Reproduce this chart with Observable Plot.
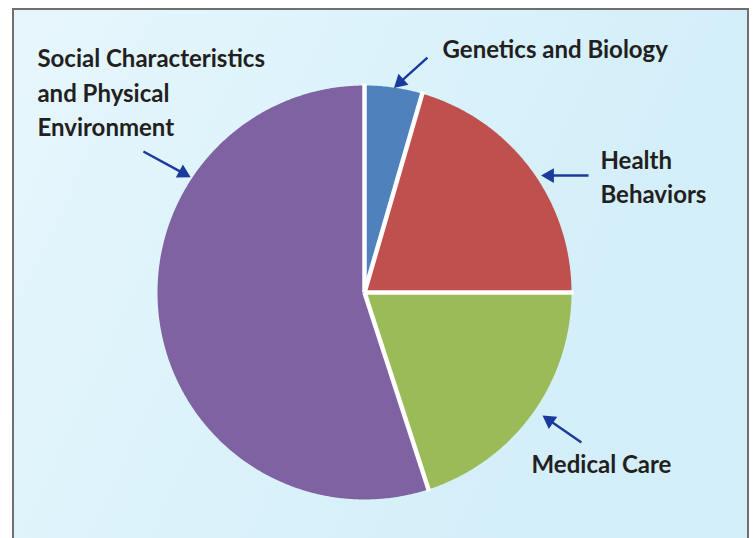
<!DOCTYPE html>
<html>
<head>
<meta charset="utf-8">
<script src="https://cdn.jsdelivr.net/npm/d3@7"></script>
<script src="https://cdn.jsdelivr.net/npm/@observablehq/plot@0.6"></script>
<style>
  html, body { margin: 0; padding: 0; background: #ffffff; }
  #wrap { position: relative; width: 755px; height: 538px; overflow: hidden; }
  #frame {
    position: absolute; left: 12px; top: 8px; width: 733px; height: 540px;
    border: 2px solid #6f6f6f; border-bottom: none;
    background: linear-gradient(115deg, #e7f6fc 0%, #ddf3fb 35%, #d4eff9 70%, #d2eef9 100%);
  }
  #chart { position: absolute; left: 0; top: 0; }
</style>
</head>
<body>
<div id="wrap"><div id="frame"></div><div id="chart"></div></div>
<script>
// Data (clockwise from 12 o'clock), percent shares
const categories = ["Genetics and Biology", "Health Behaviors", "Medical Care", "Social Characteristics and Physical Environment"];
const values = [4.5, 20.5, 20, 55];
const colors = ["#4f81bd", "#c0504d", "#9bbb59", "#7f62a2"];

// Annotation text lines and anchors (in pie-radius units; centre = 0,0)
const labelLines = ["Social Characteristics", "and Physical", "Environment", "Genetics and Biology", "Health", "Behaviors", "Medical Care"];
const labelX = [-1.580, -1.580, -1.580, 0.377, 1.140, 1.140, 0.807];
const labelY = [1.087, 0.918, 0.754, 1.135, 0.599, 0.430, -0.874];

const arrowX1 = [0.304, -1.068, 1.082, 1.048];
const arrowY1 = [1.135, 0.681, 0.565, -0.725];
const arrowX2 = [0.155, -0.855, 0.870, 0.874];
const arrowY2 = [1.000, 0.565, 0.565, -0.604];

// Build slice outlines from the values via d3.pie
const arcs = d3.pie().sort(null).startAngle(0).endAngle(2 * Math.PI)(values);
const slicePts = [];
arcs.forEach((a, i) => {
  slicePts.push({cat: categories[i], x: 0, y: 0});
  const n = Math.max(8, Math.ceil((a.endAngle - a.startAngle) / (Math.PI / 360)));
  for (let k = 0; k <= n; k++) {
    const t = a.startAngle + (a.endAngle - a.startAngle) * k / n;
    slicePts.push({cat: categories[i], x: Math.sin(t), y: Math.cos(t)});
  }
});
const seps = arcs.map(a => ({x2: Math.sin(a.startAngle) * 1.01, y2: Math.cos(a.startAngle) * 1.01}));

const labels = labelLines.map((t, i) => ({t, x: labelX[i], y: labelY[i]}));
const W = 755, H = 538, R = 207, CX = 364, CY = 292;
const back = 5 / R; // head centre sits a little behind the tip
const arrows = arrowX1.map((x1, i) => {
  const x2 = arrowX2[i], y2 = arrowY2[i];
  const dx = x2 - x1, dy = y2 - y1_(i), L = Math.hypot(dx, dy);
  return {x1, y1: arrowY1[i], x2, y2,
    lx: x2 - dx / L * back * 1.2, ly: y2 - dy / L * back * 1.2,
    hx: x2 - dx / L * back, hy: y2 - dy / L * back,
    rot: Math.atan2(dx, dy) * 180 / Math.PI};
});
function y1_(i) { return arrowY1[i]; }

const chart = Plot.plot({
  width: W, height: H,
  margin: 0,
  style: {background: "transparent", overflow: "visible"},
  x: {domain: [-CX / R, (W - CX) / R], axis: null},
  y: {domain: [(CY - H) / R, CY / R], axis: null},
  color: {domain: categories, range: colors},
  marks: [
    Plot.line(slicePts, {x: "x", y: "y", z: "cat", fill: "cat", stroke: "none", curve: "linear-closed"}),
    Plot.link(seps, {x1: 0, y1: 0, x2: "x2", y2: "y2", stroke: "white", strokeWidth: 4.5}),
    Plot.link(arrows, {x1: "x1", y1: "y1", x2: "lx", y2: "ly", stroke: "#1a3a9c", strokeWidth: 2.4}),
    Plot.dot(arrows, {x: "hx", y: "hy", symbol: "triangle", r: 5.5, fill: "#1a3a9c", stroke: "none", rotate: "rot"}),
    Plot.text(labels, {x: "x", y: "y", text: "t", textAnchor: "start", lineAnchor: "bottom",
      fill: "#231f20", fontSize: 24, fontWeight: 700, fontFamily: "Lato, 'Open Sans', sans-serif"})
  ]
});
document.getElementById("chart").appendChild(chart);
</script>
</body>
</html>
